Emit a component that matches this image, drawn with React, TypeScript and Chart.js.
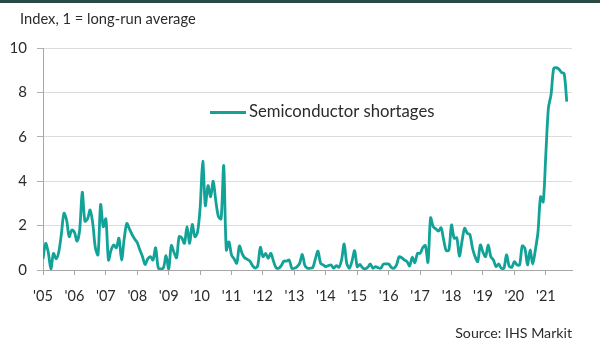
import React, { useEffect, useRef } from "react";
import { Chart, registerables } from "chart.js";

Chart.register(...registerables);

// Monthly index values, Jan 2005 onward (1 = long-run average)
const v2005 = [0.5, 1.2, 0.8, 0.05, 0.75, 0.5, 0.8, 1.6, 2.55, 2.25, 1.5, 1.8];
const v2006 = [1.7, 1.3, 1.8, 3.5, 2.2, 2.3, 2.7, 2.1, 1.0, 0.68, 2.95, 1.95];
const v2007 = [2.3, 0.45, 0.9, 1.13, 1.0, 1.43, 0.45, 1.4, 2.1, 1.85, 1.6, 1.4];
const v2008 = [1.23, 0.9, 0.6, 0.25, 0.5, 0.6, 0.45, 1.0, 0.1, 0.05, 0.1, 0.65];
const v2009 = [0.05, 1.1, 0.8, 0.55, 1.5, 1.45, 1.2, 1.95, 1.2, 2.05, 1.5, 1.7];
const v2010 = [2.8, 4.9, 2.9, 3.8, 3.3, 4.0, 3.1, 2.4, 2.3, 4.7, 0.9, 1.27];
const v2011 = [0.67, 0.5, 0.3, 1.08, 0.75, 0.55, 0.48, 0.4, 0.2, 0.08, 0.2, 1.02];
const v2012 = [0.6, 0.75, 0.53, 0.75, 0.4, 0.1, 0.08, 0.2, 0.4, 0.4, 0.45, 0.08];
const v2013 = [0.08, 0.15, 0.3, 0.7, 0.2, 0.08, 0.08, 0.1, 0.5, 0.85, 0.3, 0.23];
const v2014 = [0.15, 0.2, 0.23, 0.08, 0.2, 0.12, 0.45, 1.17, 0.3, 0.08, 0.4, 0.87];
const v2015 = [0.15, 0.25, 0.1, 0.05, 0.12, 0.27, 0.08, 0.15, 0.1, 0.08, 0.27, 0.27];
const v2016 = [0.27, 0.12, 0.08, 0.23, 0.6, 0.55, 0.45, 0.38, 0.18, 0.57, 0.33, 0.75];
const v2017 = [0.75, 1.0, 1.1, 0.35, 2.35, 1.95, 1.85, 1.75, 1.9, 1.35, 0.87, 0.9];
const v2018 = [2.03, 1.43, 1.45, 0.63, 1.3, 1.88, 1.65, 1.6, 0.98, 0.6, 0.38, 1.13];
const v2019 = [0.8, 0.6, 1.13, 0.6, 0.45, 0.15, 0.27, 0.08, 0.08, 0.68, 0.18, 0.12];
const v2020 = [0.38, 0.23, 0.23, 1.08, 0.98, 0.23, 0.9, 0.27, 0.9, 1.7, 3.3, 3.07];
const v2021 = [5.2, 7.3, 7.9, 9.08, 9.11, 9.05, 8.9, 8.85, 7.58];

const startYear = 2005;
const seriesValues = [
  ...v2005, ...v2006, ...v2007, ...v2008, ...v2009, ...v2010, ...v2011, ...v2012,
  ...v2013, ...v2014, ...v2015, ...v2016, ...v2017, ...v2018, ...v2019, ...v2020, ...v2021,
];
const tickYears = [2005, 2006, 2007, 2008, 2009, 2010, 2011, 2012, 2013, 2014, 2015, 2016, 2017, 2018, 2019, 2020, 2021];
const tickLabels = ["'05", "'06", "'07", "'08", "'09", "'10", "'11", "'12", "'13", "'14", "'15", "'16", "'17", "'18", "'19", "'20", "'21"];
const yTicks = [0, 2, 4, 6, 8, 10];
const seriesName = "Semiconductor shortages";
const titleText = "Index, 1 = long-run average";
const sourceText = "Source: IHS Markit";

const LINE = "#12a298";
const TEXT = "#2b2b2b";
const FONT = "Lato, 'Liberation Sans', sans-serif";

export default function App() {
  const ref = useRef<HTMLCanvasElement | null>(null);

  useEffect(() => {
    const canvas = ref.current;
    if (!canvas) return;

    const decor = {
      id: "decor",
      afterDraw(chart: any) {
        const { ctx, chartArea } = chart;
        ctx.save();
        // top band
        ctx.fillStyle = "#2b4a45";
        ctx.fillRect(0, 0, 600, 3);
        // title
        ctx.fillStyle = TEXT;
        ctx.font = `14.7px ${FONT}`;
        ctx.textBaseline = "alphabetic";
        ctx.textAlign = "left";
        ctx.fillText(titleText, 20, 24);
        // legend
        ctx.strokeStyle = LINE;
        ctx.lineWidth = 3;
        ctx.beginPath();
        ctx.moveTo(210, 112.5);
        ctx.lineTo(246, 112.5);
        ctx.stroke();
        ctx.font = `16.7px ${FONT}`;
        ctx.fillStyle = TEXT;
        ctx.textBaseline = "middle";
        ctx.fillText(seriesName, 249, 112);
        // source
        ctx.font = `14.2px ${FONT}`;
        ctx.textAlign = "right";
        ctx.fillText(sourceText, chartArea.right, 333);
        ctx.restore();
      },
    };

    const chart = new Chart(canvas, {
      type: "line",
      data: {
        datasets: [
          {
            label: seriesName,
            data: seriesValues.map((v, i) => ({ x: startYear + i / 12, y: v })),
            borderColor: LINE,
            backgroundColor: LINE,
            borderWidth: 2.8,
            pointRadius: 0,
            tension: 0.3,
            fill: false,
          },
        ],
      },
      options: {
        responsive: false,
        animation: false,
        layout: { padding: { top: 48, right: 28, left: 0, bottom: 0 } },
        plugins: {
          legend: { display: false },
          tooltip: { enabled: false },
        },
        scales: {
          x: {
            type: "linear",
            min: startYear,
            max: 2021 + 10 / 12,
            afterBuildTicks: (scale: any) => {
              scale.ticks = tickYears.map((v) => ({ value: v }));
            },
            afterFit: (scale: any) => {
              scale.height = 77;
            },
            ticks: {
              autoSkip: false,
              maxRotation: 0,
              minRotation: 0,
              padding: 13,
              color: TEXT,
              font: { family: FONT, size: 14.5 },
              callback: (v: any) => {
                const idx = tickYears.indexOf(Number(v));
                return idx >= 0 ? tickLabels[idx] : "";
              },
            },
            grid: {
              drawOnChartArea: false,
              drawTicks: true,
              tickLength: 5,
              color: "#a6a6a6",
              tickColor: "#a6a6a6",
            },
            border: { display: true, color: "#a6a6a6", width: 1 },
          },
          y: {
            min: 0,
            max: 10,
            afterBuildTicks: (scale: any) => {
              scale.ticks = yTicks.map((v) => ({ value: v }));
            },
            afterFit: (scale: any) => {
              scale.width = 43;
            },
            ticks: {
              padding: 10,
              color: TEXT,
              font: { family: FONT, size: 15 },
            },
            grid: {
              color: (c: any) => (c.tick && c.tick.value === 0 ? "rgba(0,0,0,0)" : "#dcdcdc"),
              tickColor: "#b0b0b0",
              tickLength: 6,
              lineWidth: 1,
            },
            border: { display: true, color: "#a6a6a6", width: 1 },
          },
        },
      },
      plugins: [decor],
    });

    return () => chart.destroy();
  }, []);

  return (
    <div style={{ position: "absolute", left: 0, top: 0, width: 600, height: 347, background: "#fff" }}>
      <canvas ref={ref} width={600} height={347} style={{ display: "block" }} />
    </div>
  );
}
